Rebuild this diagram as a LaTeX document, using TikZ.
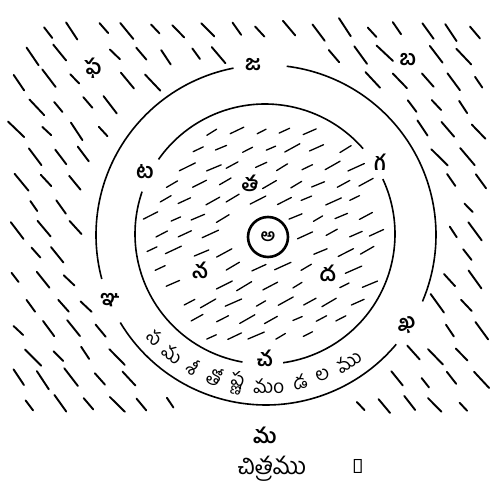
\documentclass[tikz,border=0pt]{standalone}
\usepackage{fontspec}
\newfontfamily\te[Script=Telugu]{Hind Guntur}
\begin{document}
\begin{tikzpicture}[x=1pt,y=1pt,
  lbl/.style={font=\te\bfseries\fontsize{21}{24}\selectfont, inner sep=0pt},
  arclbl/.style={font=\te\fontsize{19}{21}\selectfont, inner sep=0pt},
  ring/.style={line width=1.6pt},
  ohatch/.style={line width=1.9pt, line cap=round},
  ihatch/.style={line width=1.3pt, line cap=round}]
\useasboundingbox (0,0) rectangle (490,495);
\coordinate (C) at (266,260);
\coordinate (Ci) at (265,261);
% outer circle, broken at the labels
\draw[ring] (C) ++(101:170) arc[start angle=101, end angle=195, radius=170];
\draw[ring] (C) ++(211:170) arc[start angle=211, end angle=320, radius=170];
\draw[ring] (C) ++(-23:170) arc[start angle=-23, end angle=83, radius=170];
% inner circle, broken at the labels
\draw[ring] (Ci) ++(41:130) arc[start angle=41, end angle=145, radius=130];
\draw[ring] (Ci) ++(161:130) arc[start angle=161, end angle=260, radius=130];
\draw[ring] (Ci) ++(278:130) arc[start angle=278, end angle=385, radius=130];
% centre
\node[circle, draw, line width=2.6pt, minimum size=40pt, inner sep=0pt,
      font=\te\bfseries\fontsize{17}{18}\selectfont] (A) at (268,258) {అ};
% labels
\node[lbl] (pha) at (93,427) {ఫ};
\node[lbl] (ja) at (253,430) {జ};
\node[lbl] (ba) at (408,435) {బ};
\node[lbl] (Ta) at (145,323) {ట};
\node[lbl] (ta) at (250,312) {త};
\node[lbl] (ga) at (380,333) {గ};
\node[lbl] (na) at (200,225) {న};
\node[lbl] (da) at (328,222) {ద};
\node[lbl] (nya) at (110,195) {ఞ};
\node[lbl] (ca) at (265,137) {చ};
\node[lbl, rotate=20] (kha) at (407,170) {ఖ};
\node[lbl] (ma) at (265,60) {మ};
\node[font=\te\fontsize{24}{26}\selectfont, inner sep=0pt, anchor=base] (cap) at (272,20) {చిత్రము};
\node[font=\te\fontsize{20}{22}\selectfont, inner sep=0pt, anchor=base] (capnum) at (358,21) {౧};
% zone name along the arc
\foreach \t/\a [count=\k] in {స/223, మ/232, శీ/241, తో/250, ష్ణ/259, మం/271, డ/283, ల/292, ము/303}
  \node[arclbl, rotate=\a+90] (z\k) at ([shift={(\a:151)}]C) {\t};
% hatching
\pgfmathsetseed{12}
% inner zone: shallow rising dashes
\foreach \j in {0,...,16} {
  \foreach \i in {0,...,12} {
    \pgfmathsetmacro\px{265-150+\i*24+mod(\j,2)*12+3*rand}
    \pgfmathsetmacro\py{261-136+\j*17+2*rand}
    \pgfmathsetmacro\dc{veclen(\px-265,\py-261)}
    \pgfmathsetmacro\dl{min(veclen(\px-145,\py-323),veclen(\px-250,\py-312),veclen(\px-380,\py-333),veclen(\px-200,\py-225),veclen(\px-328,\py-222),veclen(\px-265,\py-137))}
    \pgfmathsetmacro\ok{and(and(\dc>33,\dc<117),\dl>16)}
    \ifdim\ok pt>0.5pt
      \pgfmathsetmacro\ang{27+5*rand}
      \pgfmathsetmacro\len{7+2*rand}
      \draw[ihatch] (\px,\py) +(\ang:-\len) -- +(\ang:\len);
    \fi
  }
}
% outer zone: steep falling dashes
\foreach \j in {0,...,18} {
  \foreach \i in {0,...,18} {
    \pgfmathsetmacro\px{6+\i*27+mod(\j,2)*13+4*rand}
    \pgfmathsetmacro\py{40+\j*25+3*rand}
    \pgfmathsetmacro\dc{veclen(\px-266,\py-260)}
    \pgfmathsetmacro\dl{min(veclen(\px-93,\py-427),veclen(\px-253,\py-430),veclen(\px-408,\py-435),veclen(\px-110,\py-195),veclen(\px-407,\py-170),veclen(\px-265,\py-60))}
    \pgfmathsetmacro\ok{and(and(and(\dc>184,\dc<300),\dl>20),and(and(\px>12,\px<482),and(\py>72,\py<486)))}
    \ifdim\ok pt>0.5pt
      \pgfmathsetmacro\ang{-50+7*rand}
      \pgfmathsetmacro\len{8.5+3*rand}
      \draw[ohatch] (\px,\py) +(\ang:-\len) -- +(\ang:\len);
    \fi
  }
}
\end{tikzpicture}
\end{document}
